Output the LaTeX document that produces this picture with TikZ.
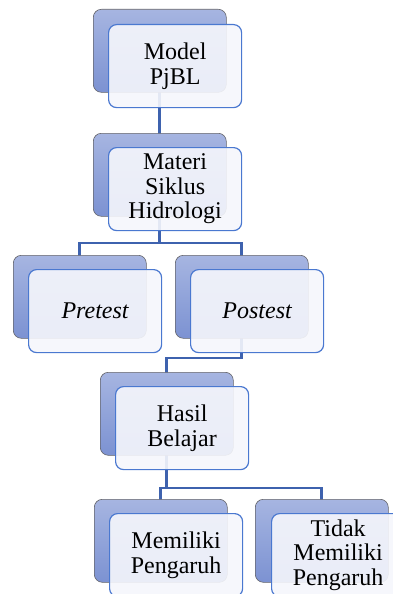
\documentclass[tikz,border=0pt]{standalone}
\usepackage{fontspec}
\setmainfont{Liberation Serif}
\newfontfamily\tnr{Liberation Serif}
\usetikzlibrary{backgrounds}
\definecolor{backtop}{RGB}{166,181,225}
\definecolor{backbot}{RGB}{124,146,210}
\definecolor{backedge}{RGB}{100,100,105}
\definecolor{frontedge}{RGB}{74,120,208}
\definecolor{frontfill}{RGB}{246,247,252}
\definecolor{connc}{RGB}{62,98,174}
\tikzset{
  backbox/.style={draw=backedge, line width=0.6pt, rounded corners=8pt,
    minimum width=133pt, minimum height=83pt, inner sep=0pt, anchor=north west,
    top color=backtop, bottom color=backbot},
  frontbox/.style={draw=frontedge, line width=1.2pt, rounded corners=8pt,
    minimum width=133pt, minimum height=83pt, inner sep=0pt, anchor=north west,
    fill=frontfill, fill opacity=0.9, text opacity=1, align=center,
    font=\tnr\fontsize{24pt}{24.5pt}\selectfont},
  conn/.style={draw=connc, line width=2.8pt}
}
\begin{document}
\begin{tikzpicture}[x=1pt,y=-1pt]
\useasboundingbox (0,0) rectangle (393,594);
\clip (0,0) rectangle (393,594);
% Model PjBL
\node[backbox] (mB) at (93,9) {};
\node[frontbox] (mF) at (108,24) {Model\\PjBL};
% Materi
\node[backbox] (tB) at (93,133) {};
\node[frontbox] (tF) at (108,147) {Materi\\Siklus\\Hidrologi};
% Pretest
\node[backbox] (pB) at (13,255) {};
\node[frontbox] (pF) at (28,269) {\itshape Pretest};
% Postest
\node[backbox] (qB) at (175,255) {};
\node[frontbox] (qF) at (190,269) {\itshape Postest};
% Hasil
\node[backbox] (hB) at (100,372) {};
\node[frontbox] (hF) at (115,386) {Hasil\\Belajar};
% Memiliki
\node[backbox] (aB) at (94,499) {};
\node[frontbox] (aF) at (109,513) {Memiliki\\Pengaruh};
% Tidak
\node[backbox] (bB) at (255,499) {};
\node[frontbox] (bF) at (271,513) {Tidak\\Memiliki\\Pengaruh};
\coordinate (j1) at (0,243);
\coordinate (j2) at (0,358);
\coordinate (j3) at (0,488);
\begin{scope}[on background layer]
\fill[white] (0,0) rectangle (393,594);
\draw[conn] (mB.center) -- (tB.center);
\draw[conn] (tB.center) -- (tB.center |- j1);
\draw[conn] (pB.center) -- (pB.center |- j1) -- (qB.center |- j1) -- (qB.center);
\draw[conn] (qB.center) -- (qB.center |- j2) -- (hB.center |- j2) -- (hB.center);
\draw[conn] (hB.center) -- (hB.center |- j3);
\draw[conn] (aB.center) -- (aB.center |- j3) -- (bB.center |- j3) -- (bB.center);
\end{scope}
\end{tikzpicture}
\end{document}
